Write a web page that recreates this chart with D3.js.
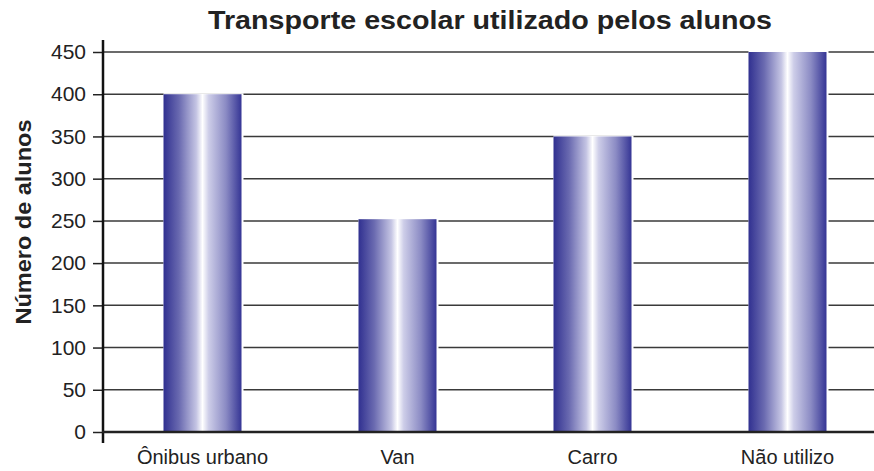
<!DOCTYPE html>
<html>
<head>
<meta charset="utf-8">
<script src="https://cdn.jsdelivr.net/npm/d3@7"></script>
<style>
  body { margin: 0; background: #fff; }
  text { font-family: "Liberation Sans", Arial, sans-serif; fill: #222; }
</style>
</head>
<body>
<div id="chart"></div>
<script>
// data
var categories = ["Ônibus urbano", "Van", "Carro", "Não utilizo"];
var values = [400, 252, 350, 450];
var yTicks = [0, 50, 100, 150, 200, 250, 300, 350, 400, 450];
var title = "Transporte escolar utilizado pelos alunos";
var yLabel = "Número de alunos";

var width = 874, height = 471;
var svg = d3.select("#chart").append("svg").attr("width", width).attr("height", height);

// scales
var x = d3.scaleBand().domain(categories).range([105, 885]).paddingInner(0.6).paddingOuter(0.3);
var y = d3.scaleLinear().domain([0, 450]).range([432, 52]);

// bar gradient
var grad = svg.append("defs").append("linearGradient").attr("id", "barGrad")
    .attr("x1", "0%").attr("x2", "100%").attr("y1", "0%").attr("y2", "0%");
[[0, "#303090"], [0.2, "#6a6ab0"], [0.42, "#c4c4e3"], [0.5, "#ffffff"], [0.58, "#cdcde8"],
 [0.8, "#8b8bc4"], [1, "#353595"]].forEach(function(s){
    grad.append("stop").attr("offset", s[0]).attr("stop-color", s[1]);
});

// gridlines
svg.append("g").selectAll("line").data(yTicks.slice(1)).enter().append("line")
    .attr("x1", 103).attr("x2", width)
    .attr("y1", function(d){ return y(d); }).attr("y2", function(d){ return y(d); })
    .attr("stroke", "#3a3a3a").attr("stroke-width", 1.5);

// bars (white gap on the right side)
svg.append("g").selectAll("rect").data(values).enter().append("rect")
    .attr("x", function(d, i){ return x(categories[i]); })
    .attr("y", function(d){ return y(d) - 1; })
    .attr("width", x.bandwidth() + 2)
    .attr("height", function(d){ return y(0) - y(d) + 1; })
    .attr("fill", "#fff");
svg.append("g").selectAll("rect").data(values).enter().append("rect")
    .attr("x", function(d, i){ return x(categories[i]); })
    .attr("y", function(d){ return y(d); })
    .attr("width", x.bandwidth())
    .attr("height", function(d){ return y(0) - y(d); })
    .attr("fill", "url(#barGrad)");

// y axis
var yAxis = d3.axisLeft(y).tickValues(yTicks).tickSize(10).tickPadding(7);
var gy = svg.append("g").attr("transform", "translate(103,0)").call(yAxis);
gy.select(".domain").remove();
gy.selectAll(".tick line").attr("stroke", "#222").attr("stroke-width", 1.5);
gy.selectAll(".tick text").attr("font-size", "21px").attr("font-family", "Liberation Sans, Arial, sans-serif")
    .attr("fill", "#222");
svg.append("line").attr("x1", 103).attr("x2", 103).attr("y1", 40).attr("y2", 443)
    .attr("stroke", "#111").attr("stroke-width", 2.5);

// x axis
var xAxis = d3.axisBottom(x).tickSize(0).tickPadding(18);
var gx = svg.append("g").attr("transform", "translate(0," + y(0) + ")").call(xAxis);
gx.select(".domain").remove();
gx.selectAll(".tick text").attr("font-size", "20px").attr("font-family", "Liberation Sans, Arial, sans-serif")
    .attr("fill", "#222");
svg.append("line").attr("x1", 102).attr("x2", width).attr("y1", y(0)).attr("y2", y(0))
    .attr("stroke", "#222").attr("stroke-width", 2.5);

// title
svg.append("text").attr("x", 490).attr("y", 29).attr("text-anchor", "middle")
    .attr("font-size", "25px").attr("font-weight", "bold")
    .attr("textLength", 564).attr("lengthAdjust", "spacingAndGlyphs").text(title);

// y label
svg.append("text").attr("transform", "translate(31,222) rotate(-90)").attr("text-anchor", "middle")
    .attr("font-size", "22px").attr("font-weight", "bold")
    .attr("textLength", 205).attr("lengthAdjust", "spacingAndGlyphs").text(yLabel);
</script>
</body>
</html>
